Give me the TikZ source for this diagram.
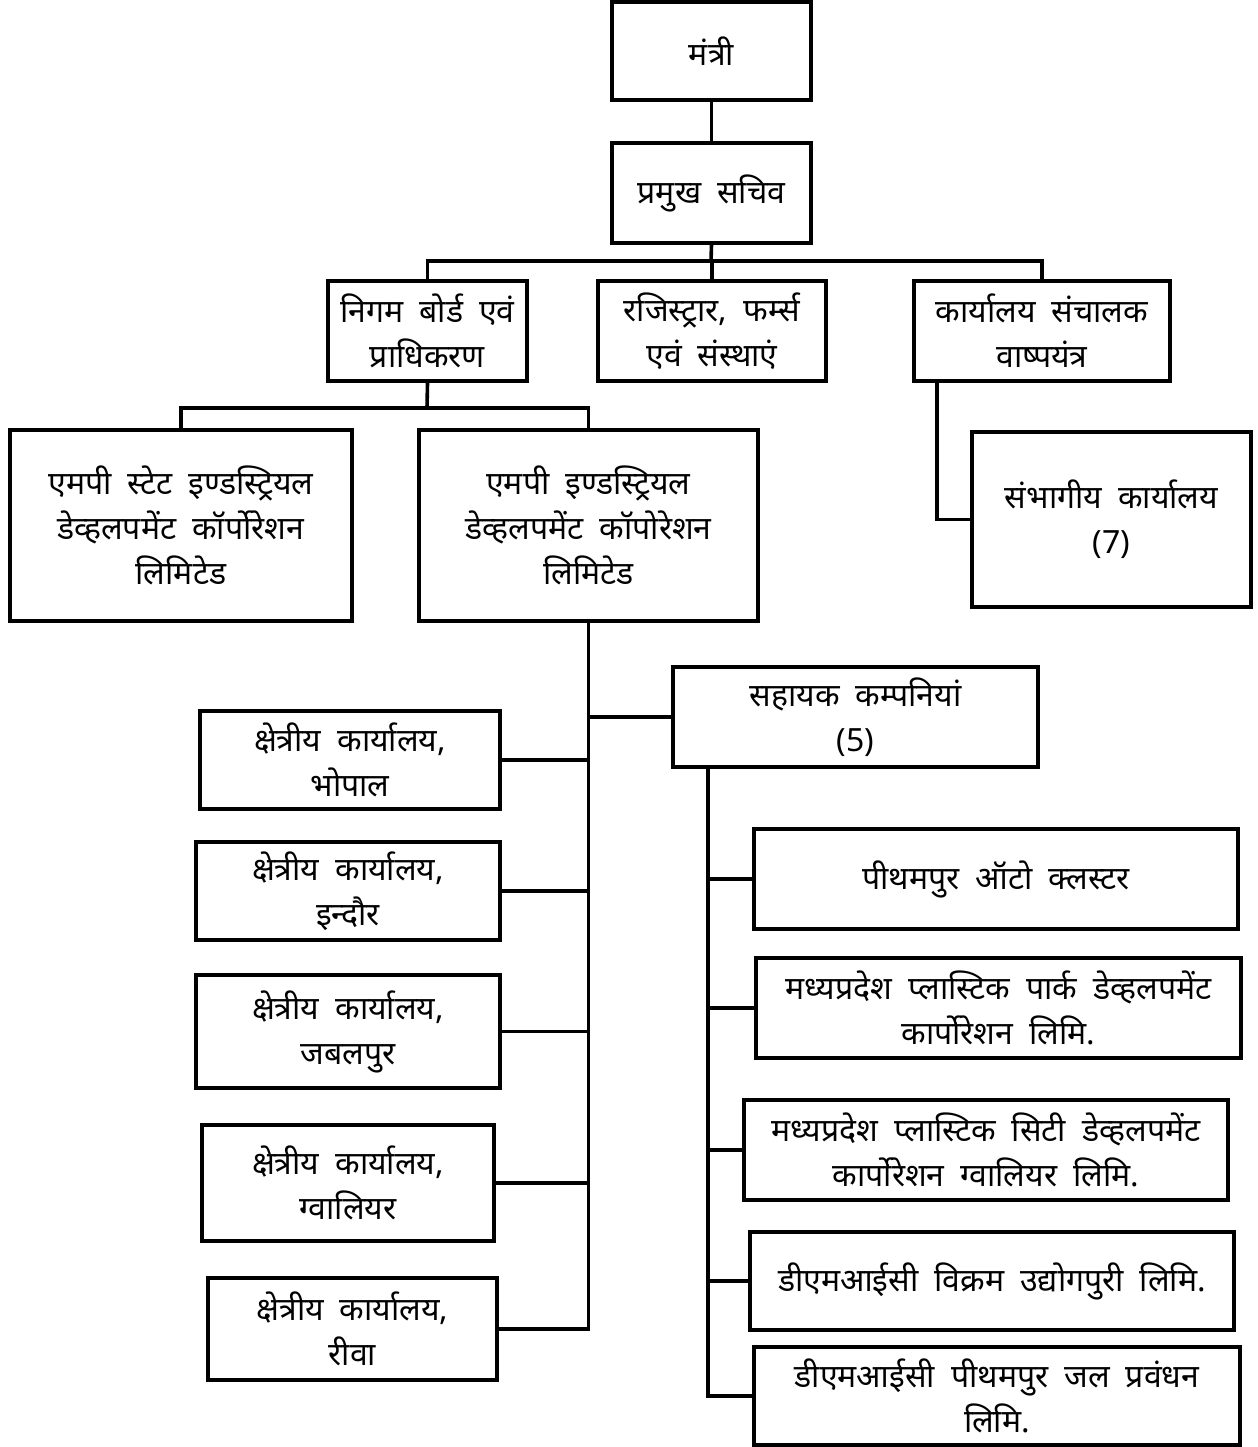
\documentclass[tikz,border=0pt]{standalone}
\usepackage{fontspec}
\setmainfont{Noto Sans}[Script=Devanagari]
\usetikzlibrary{calc}
\newcommand\myboxfont{\fontsize{16}{22.5}\selectfont\spaceskip=0.5em\relax}
\tikzset{
  orgbox/.style={draw=black, line width=1.8pt, fill=white, align=center, inner sep=2pt,
    font=\myboxfont},
  link/.style={draw=black, line width=1.8pt}
}
\newcommand\orgbox[6]{%
  \node[orgbox, minimum width={(#4-#2)*0.5pt}, minimum height={(#5-#3)*0.5pt}]
    (#1) at ({(#2+#4)/2},{(#3+#5)/2}) {#6};}
\begin{document}
\begin{tikzpicture}[x=0.5pt, y=-0.5pt]
\useasboundingbox (0,0) rectangle (1258,1447);
% top levels
\orgbox{mn}{612}{2}{811}{100}{मंत्री}
\orgbox{ps}{612}{143}{811}{243}{प्रमुख सचिव}
\orgbox{nb}{328}{281}{527}{381}{निगम बोर्ड एवं\\प्राधिकरण}
\orgbox{rf}{598}{281}{826}{381}{रजिस्ट्रार, फर्म्स\\एवं संस्थाएं}
\orgbox{kd}{914}{281}{1170}{381}{कार्यालय संचालक\\वाष्पयंत्र}
\orgbox{sb}{972}{432}{1251}{607}{संभागीय कार्यालय\\(7)}
\orgbox{ms}{10}{430}{352}{621}{एमपी स्टेट इण्डस्ट्रियल\\डेव्हलपमेंट कॉर्पोरेशन\\लिमिटेड}
\orgbox{mi}{419}{430}{758}{621}{एमपी इण्डस्ट्रियल\\डेव्हलपमेंट कॉपोरेशन\\लिमिटेड}
\orgbox{sk}{673}{667}{1038}{767}{सहायक कम्पनियां\\(5)}
% regional offices
\orgbox{bh}{200}{711}{500}{809}{क्षेत्रीय कार्यालय,\\भोपाल}
\orgbox{in}{196}{842}{500}{940}{क्षेत्रीय कार्यालय,\\इन्दौर}
\orgbox{jb}{196}{975}{500}{1088}{क्षेत्रीय कार्यालय,\\जबलपुर}
\orgbox{gw}{202}{1125}{494}{1241}{क्षेत्रीय कार्यालय,\\ग्वालियर}
\orgbox{rw}{208}{1278}{497}{1380}{क्षेत्रीय कार्यालय,\\रीवा}
% subsidiaries
\orgbox{pa}{754}{829}{1238}{929}{\raisebox{-4pt}{पीथमपुर ऑटो क्लस्टर}}
\orgbox{pp}{756}{958}{1241}{1058}{मध्यप्रदेश प्लास्टिक पार्क डेव्हलपमेंट\\कार्पोरेशन लिमि.}
\orgbox{pc}{744}{1100}{1228}{1200}{मध्यप्रदेश प्लास्टिक सिटी डेव्हलपमेंट\\कार्पोरेशन ग्वालियर लिमि.}
\orgbox{dv}{750}{1232}{1234}{1330}{डीएमआईसी विक्रम उद्योगपुरी लिमि.}
\orgbox{jl}{754}{1347}{1240}{1445}{डीएमआईसी पीथमपुर जल प्रवंधन\\लिमि.}
% connectors
\coordinate (b1) at (711,261);
\coordinate (b2) at (427,408);
\draw[link] (mn.south) -- (ps.south |- mn.south) -- (ps.north);
\draw[link] (ps.south) -- (b1);
\draw[link] (nb.north) -- (nb.north |- b1) -- (kd.north |- b1) -- (kd.north);
\draw[link] (rf.north) -- (rf.north |- b1);
\draw[link] (nb.south) -- (b2);
\draw[link] (ms.north) -- (ms.north |- b2) -- (mi.north |- b2) -- (mi.north);
\coordinate (t0) at ($(kd.south west)+(25,0)$);
\draw[link] (t0) |- (sb.west);
% MPIDC trunk
\draw[link] (mi.south) |- (rw.east);
\draw[link] (sk.west) -- (sk.west -| mi.south);
\draw[link] (bh.east) -- (bh.east -| mi.south);
\draw[link] (in.east) -- (in.east -| mi.south);
\draw[link] (jb.east) -- (jb.east -| mi.south);
\draw[link] (gw.east) -- (gw.east -| mi.south);
% subsidiaries trunk
\coordinate (t2) at ($(sk.south west)+(37,0)$);
\draw[link] (t2) |- (jl.west);
\draw[link] (pa.west) -- (pa.west -| t2);
\draw[link] (pp.west) -- (pp.west -| t2);
\draw[link] (pc.west) -- (pc.west -| t2);
\draw[link] (dv.west) -- (dv.west -| t2);
\end{tikzpicture}
\end{document}
